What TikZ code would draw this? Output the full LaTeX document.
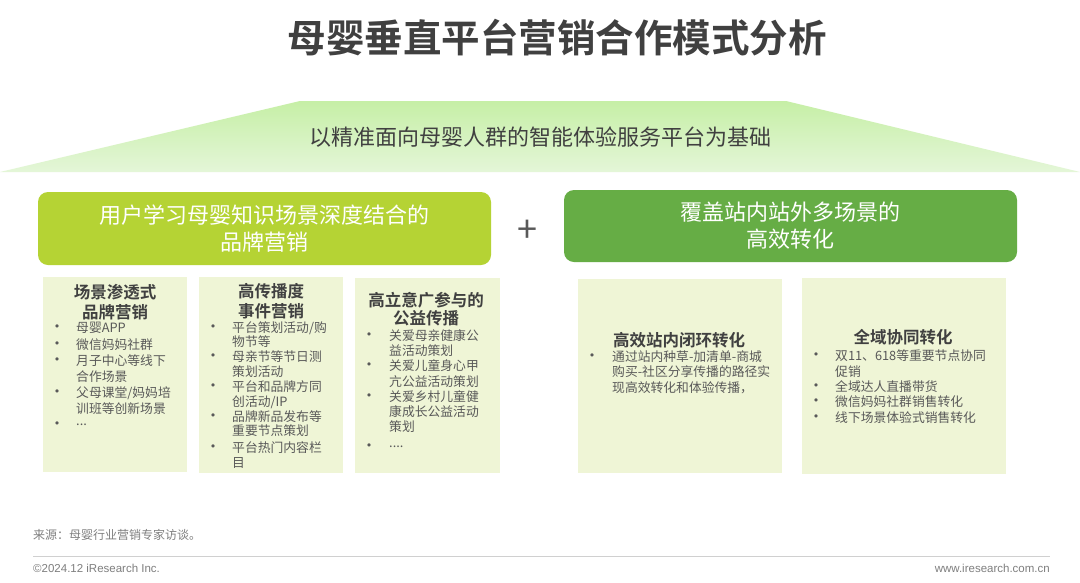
\documentclass[tikz,border=0pt]{standalone}
\usepackage{fontspec}
\setmainfont{Noto Sans CJK SC}[BoldFont={Noto Sans CJK SC Bold}]
\newfontfamily\ftfont{Liberation Sans}
\newfontfamily\bulfont{DejaVu Sans}
\definecolor{hdrL}{HTML}{B5D334}
\definecolor{hdrR}{HTML}{66AD45}
\definecolor{cardbg}{HTML}{EFF5D6}
\definecolor{trapTop}{HTML}{C6EFA6}
\definecolor{trapBot}{HTML}{E4F6D8}
\definecolor{tdark}{HTML}{404040}
\definecolor{ttl}{HTML}{404040}
\definecolor{titm}{HTML}{595959}
\definecolor{tfoot}{HTML}{7F7F7F}
\definecolor{lfoot}{HTML}{D0D0D0}
\tikzset{
  hdrbox/.style={rounded corners=10pt, inner sep=0pt, text=white, align=center,
    font=\fontsize{22}{27}\selectfont},
  card/.style={fill=cardbg, inner sep=0pt},
  cardttl/.style={inner sep=0pt, text=ttl, align=center, font=\fontsize{16.5}{20}\selectfont\bfseries},
  itm/.style={inner sep=0pt, anchor=west, text=titm, font=\fontsize{12.8}{15}\selectfont},
  bul/.style={inner sep=0pt, text=titm, font=\bulfont\fontsize{11}{12}\selectfont},
  foot/.style={inner sep=0pt, text=tfoot},
}
\begin{document}
\begin{tikzpicture}[x=1pt,y=-1pt]
\useasboundingbox (0,0) rectangle (1080,582);
\fill[white] (0,0) rectangle (1080,582);
% title
\node[inner sep=0pt, text=tdark, font=\fontsize{38.5}{40}\selectfont\bfseries] (title) at (557,38) {母婴垂直平台营销合作模式分析};
% trapezoid
\shade[top color=trapTop, bottom color=trapBot] (300,101) -- (786,101) -- (1080,172) -- (0,172) -- cycle;
\node[inner sep=0pt, text=ttl, font=\fontsize{22}{26}\selectfont] (base) at (540,137) {以精准面向母婴人群的智能体验服务平台为基础};
% headers
\node[hdrbox, fill=hdrL, minimum width=453pt, minimum height=73pt] (h1) at (264.5,228.5) {用户学习母婴知识场景深度结合的\\品牌营销};
\node[inner sep=0pt, text=titm, font=\fontsize{36}{38}\selectfont] (plus) at (527,231) {+};
\node[hdrbox, fill=hdrR, minimum width=453pt, minimum height=72pt] (h2) at (790.5,226) {覆盖站内站外多场景的\\高效转化};
% cards
\node[card, minimum width=144pt, minimum height=195pt] (c1) at (115,374.5) {};
\node[card, minimum width=144pt, minimum height=196pt] (c2) at (271,375) {};
\node[card, minimum width=145pt, minimum height=195pt] (c3) at (427.5,375.5) {};
\node[card, minimum width=204pt, minimum height=194pt] (c4) at (680,376) {};
\node[card, minimum width=204pt, minimum height=196pt] (c5) at (904,376) {};
% card 1
\node[cardttl] (t1a) at (115,292) {场景渗透式};
\node[cardttl] (t1b) at (115,312) {品牌营销};
\node[bul] (b1a) at (57,328) {•};
\node[itm] (i1a) at (76,328) {母婴APP};
\node[bul] (b1b) at (57,345) {•};
\node[itm] (i1b) at (76,345) {微信妈妈社群};
\node[bul] (b1c) at (57,361) {•};
\node[itm] (i1c) at (76,361) {月子中心等线下};
\node[itm] (i1d) at (76,377) {合作场景};
\node[bul] (b1e) at (57,393) {•};
\node[itm] (i1e) at (76,393) {父母课堂/妈妈培};
\node[itm] (i1f) at (76,409) {训班等创新场景};
\node[bul] (b1g) at (57,425) {•};
\node[itm] (i1g) at (76,425) {...};
% card 2
\node[cardttl] (t2a) at (271,291) {高传播度};
\node[cardttl] (t2b) at (271,311) {事件营销};
\node[bul] (b2a) at (213,328) {•};
\node[itm] (i2a) at (232,328) {平台策划活动/购};
\node[itm] (i2b) at (232,342) {物节等};
\node[bul] (b2c) at (213,357) {•};
\node[itm] (i2c) at (232,357) {母亲节等节日测};
\node[itm] (i2d) at (232,372) {策划活动};
\node[bul] (b2e) at (213,387) {•};
\node[itm] (i2e) at (232,387) {平台和品牌方同};
\node[itm] (i2f) at (232,402) {创活动/IP};
\node[bul] (b2g) at (213,417) {•};
\node[itm] (i2g) at (232,417) {品牌新品发布等};
\node[itm] (i2h) at (232,431) {重要节点策划};
\node[bul] (b2i) at (213,448) {•};
\node[itm] (i2i) at (232,448) {平台热门内容栏};
\node[itm] (i2j) at (232,463) {目};
% card 3
\node[cardttl] (t3a) at (426,300) {高立意广参与的};
\node[cardttl] (t3b) at (426,318) {公益传播};
\node[bul] (b3a) at (369,336) {•};
\node[itm] (i3a) at (389,336) {关爱母亲健康公};
\node[itm] (i3b) at (389,351) {益活动策划};
\node[bul] (b3c) at (369,366) {•};
\node[itm] (i3c) at (389,366) {关爱儿童身心甲};
\node[itm] (i3d) at (389,382) {亢公益活动策划};
\node[bul] (b3e) at (369,397) {•};
\node[itm] (i3e) at (389,397) {关爱乡村儿童健};
\node[itm] (i3f) at (389,412) {康成长公益活动};
\node[itm] (i3g) at (389,427) {策划};
\node[bul] (b3h) at (369,447) {•};
\node[itm] (i3h) at (389,447) {....};
% card 4
\node[cardttl, anchor=west] (t4) at (613,340) {高效站内闭环转化};
\node[bul] (b4a) at (592,357) {•};
\node[itm] (i4a) at (612,357) {通过站内种草-加清单-商城};
\node[itm] (i4b) at (612,372) {购买-社区分享传播的路径实};
\node[itm] (i4c) at (612,388) {现高效转化和体验传播，};
% card 5
\node[cardttl] (t5) at (903,337) {全域协同转化};
\node[bul] (b5a) at (816,356) {•};
\node[itm] (i5a) at (835,356) {双11、618等重要节点协同};
\node[itm] (i5b) at (835,372) {促销};
\node[bul] (b5c) at (816,387) {•};
\node[itm] (i5c) at (835,387) {全域达人直播带货};
\node[bul] (b5d) at (816,402) {•};
\node[itm] (i5d) at (835,402) {微信妈妈社群销售转化};
\node[bul] (b5e) at (816,418) {•};
\node[itm] (i5e) at (835,418) {线下场景体验式销售转化};
% footer
\node[foot, anchor=west, font=\fontsize{12}{14}\selectfont] (src) at (33,535) {来源：母婴行业营销专家访谈。};
\coordinate (fl) at (33,556);
\coordinate (fr) at (1050,556);
\draw[lfoot, line width=1pt] (fl) -- (fr);
\node[foot, anchor=west, font=\ftfont\fontsize{11.5}{13}\selectfont] (copy) at (33,568) {©2024.12 iResearch Inc.};
\node[foot, anchor=east, font=\ftfont\fontsize{11.5}{13}\selectfont] (web) at (1050,568) {www.iresearch.com.cn};
\end{tikzpicture}
\end{document}
